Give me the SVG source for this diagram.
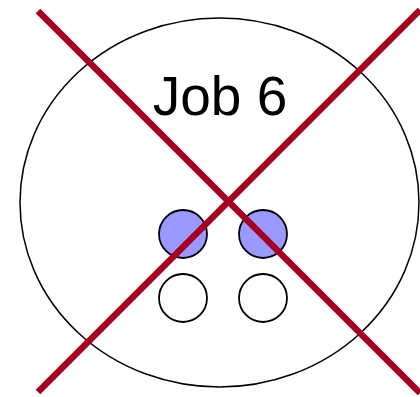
<svg xmlns="http://www.w3.org/2000/svg" width="420" height="397" viewBox="0 0 420 397">
<style>
.job{fill:#fff;stroke:#000;stroke-width:1.5}
.slot{stroke:#000;stroke-width:1.8}
.busy{fill:#9999FF}
.free{fill:#fff}
.lbl{font-family:"Liberation Sans",Arial,sans-serif;font-size:55px;fill:#000}
.cross{stroke:#A50021;stroke-width:6.5;stroke-linecap:butt}
</style>
<g id="job6">
<ellipse class="job" cx="219.5" cy="202.5" rx="199.5" ry="184.5"/>
<text class="lbl" x="220" y="115" text-anchor="middle">Job 6</text>
</g>
<g id="slot1"><circle class="slot busy" cx="183" cy="234" r="24"/></g>
<g id="slot2"><circle class="slot busy" cx="263" cy="234" r="24"/></g>
<g id="slot3"><circle class="slot free" cx="183" cy="298" r="24"/></g>
<g id="slot4"><circle class="slot free" cx="263" cy="298" r="24"/></g>
<g id="connectors">
<line class="cross" x1="38" y1="11" x2="420" y2="393"/>
<line class="cross" x1="38" y1="392" x2="420" y2="10"/>
</g>
</svg>
